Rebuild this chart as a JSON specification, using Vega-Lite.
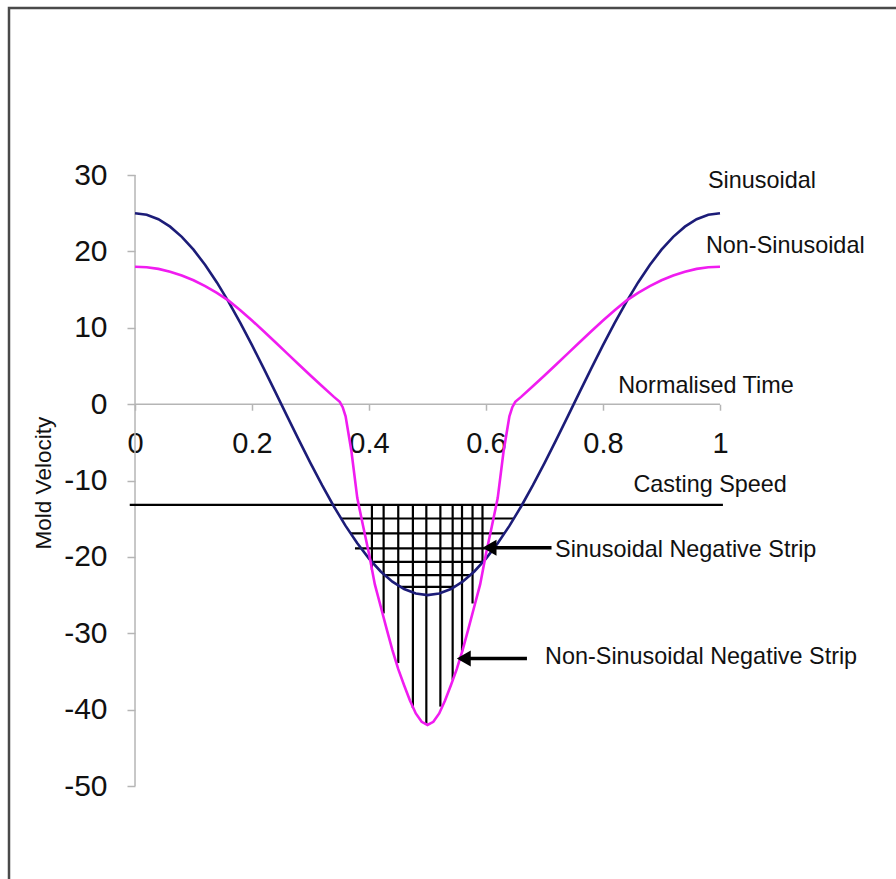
{
  "$schema": "https://vega.github.io/schema/vega-lite/v6.json",
  "width": 891,
  "height": 877,
  "autosize": {"type": "none"},
  "padding": {"left": 9, "top": 8, "right": 0, "bottom": 0},
  "background": "white",
  "config": {
    "font": "Liberation Sans",
    "view": {"stroke": "#4a4a4a", "strokeWidth": 2.5},
    "axis": {"grid": false}
  },
  "datasets": {
    "curves": [
      {"t": 0, "v": 25, "series": "Sinusoidal"},
      {"t": 0.02, "v": 24.8, "series": "Sinusoidal"},
      {"t": 0.04, "v": 24.21, "series": "Sinusoidal"},
      {"t": 0.06, "v": 23.24, "series": "Sinusoidal"},
      {"t": 0.08, "v": 21.91, "series": "Sinusoidal"},
      {"t": 0.1, "v": 20.23, "series": "Sinusoidal"},
      {"t": 0.12, "v": 18.22, "series": "Sinusoidal"},
      {"t": 0.14, "v": 15.94, "series": "Sinusoidal"},
      {"t": 0.16, "v": 13.4, "series": "Sinusoidal"},
      {"t": 0.18, "v": 10.64, "series": "Sinusoidal"},
      {"t": 0.2, "v": 7.73, "series": "Sinusoidal"},
      {"t": 0.22, "v": 4.68, "series": "Sinusoidal"},
      {"t": 0.24, "v": 1.57, "series": "Sinusoidal"},
      {"t": 0.26, "v": -1.57, "series": "Sinusoidal"},
      {"t": 0.28, "v": -4.68, "series": "Sinusoidal"},
      {"t": 0.3, "v": -7.73, "series": "Sinusoidal"},
      {"t": 0.32, "v": -10.64, "series": "Sinusoidal"},
      {"t": 0.34, "v": -13.4, "series": "Sinusoidal"},
      {"t": 0.36, "v": -15.94, "series": "Sinusoidal"},
      {"t": 0.38, "v": -18.22, "series": "Sinusoidal"},
      {"t": 0.4, "v": -20.23, "series": "Sinusoidal"},
      {"t": 0.42, "v": -21.91, "series": "Sinusoidal"},
      {"t": 0.44, "v": -23.24, "series": "Sinusoidal"},
      {"t": 0.46, "v": -24.21, "series": "Sinusoidal"},
      {"t": 0.48, "v": -24.8, "series": "Sinusoidal"},
      {"t": 0.5, "v": -25, "series": "Sinusoidal"},
      {"t": 0.52, "v": -24.8, "series": "Sinusoidal"},
      {"t": 0.54, "v": -24.21, "series": "Sinusoidal"},
      {"t": 0.56, "v": -23.24, "series": "Sinusoidal"},
      {"t": 0.58, "v": -21.91, "series": "Sinusoidal"},
      {"t": 0.6, "v": -20.23, "series": "Sinusoidal"},
      {"t": 0.62, "v": -18.22, "series": "Sinusoidal"},
      {"t": 0.64, "v": -15.94, "series": "Sinusoidal"},
      {"t": 0.66, "v": -13.4, "series": "Sinusoidal"},
      {"t": 0.68, "v": -10.64, "series": "Sinusoidal"},
      {"t": 0.7, "v": -7.73, "series": "Sinusoidal"},
      {"t": 0.72, "v": -4.68, "series": "Sinusoidal"},
      {"t": 0.74, "v": -1.57, "series": "Sinusoidal"},
      {"t": 0.76, "v": 1.57, "series": "Sinusoidal"},
      {"t": 0.78, "v": 4.68, "series": "Sinusoidal"},
      {"t": 0.8, "v": 7.73, "series": "Sinusoidal"},
      {"t": 0.82, "v": 10.64, "series": "Sinusoidal"},
      {"t": 0.84, "v": 13.4, "series": "Sinusoidal"},
      {"t": 0.86, "v": 15.94, "series": "Sinusoidal"},
      {"t": 0.88, "v": 18.22, "series": "Sinusoidal"},
      {"t": 0.9, "v": 20.23, "series": "Sinusoidal"},
      {"t": 0.92, "v": 21.91, "series": "Sinusoidal"},
      {"t": 0.94, "v": 23.24, "series": "Sinusoidal"},
      {"t": 0.96, "v": 24.21, "series": "Sinusoidal"},
      {"t": 0.98, "v": 24.8, "series": "Sinusoidal"},
      {"t": 1, "v": 25, "series": "Sinusoidal"},
      {"t": 0, "v": 18, "series": "Non-Sinusoidal"},
      {"t": 0.02, "v": 17.93, "series": "Non-Sinusoidal"},
      {"t": 0.04, "v": 17.71, "series": "Non-Sinusoidal"},
      {"t": 0.06, "v": 17.35, "series": "Non-Sinusoidal"},
      {"t": 0.08, "v": 16.85, "series": "Non-Sinusoidal"},
      {"t": 0.1, "v": 16.22, "series": "Non-Sinusoidal"},
      {"t": 0.12, "v": 15.45, "series": "Non-Sinusoidal"},
      {"t": 0.14, "v": 14.56, "series": "Non-Sinusoidal"},
      {"t": 0.16, "v": 13.55, "series": "Non-Sinusoidal"},
      {"t": 0.18, "v": 12.3, "series": "Non-Sinusoidal"},
      {"t": 0.2, "v": 10.95, "series": "Non-Sinusoidal"},
      {"t": 0.22, "v": 9.55, "series": "Non-Sinusoidal"},
      {"t": 0.24, "v": 8.1, "series": "Non-Sinusoidal"},
      {"t": 0.26, "v": 6.65, "series": "Non-Sinusoidal"},
      {"t": 0.28, "v": 5.2, "series": "Non-Sinusoidal"},
      {"t": 0.3, "v": 3.75, "series": "Non-Sinusoidal"},
      {"t": 0.32, "v": 2.35, "series": "Non-Sinusoidal"},
      {"t": 0.34, "v": 0.95, "series": "Non-Sinusoidal"},
      {"t": 0.35, "v": 0.3, "series": "Non-Sinusoidal"},
      {"t": 0.355, "v": -0.4, "series": "Non-Sinusoidal"},
      {"t": 0.36, "v": -1.6, "series": "Non-Sinusoidal"},
      {"t": 0.37, "v": -6.2, "series": "Non-Sinusoidal"},
      {"t": 0.38, "v": -12.3, "series": "Non-Sinusoidal"},
      {"t": 0.39, "v": -16.0, "series": "Non-Sinusoidal"},
      {"t": 0.4, "v": -19.6, "series": "Non-Sinusoidal"},
      {"t": 0.41, "v": -23.6, "series": "Non-Sinusoidal"},
      {"t": 0.42, "v": -26.5, "series": "Non-Sinusoidal"},
      {"t": 0.43, "v": -29.4, "series": "Non-Sinusoidal"},
      {"t": 0.44, "v": -32.2, "series": "Non-Sinusoidal"},
      {"t": 0.45, "v": -34.7, "series": "Non-Sinusoidal"},
      {"t": 0.46, "v": -36.8, "series": "Non-Sinusoidal"},
      {"t": 0.47, "v": -38.8, "series": "Non-Sinusoidal"},
      {"t": 0.48, "v": -40.5, "series": "Non-Sinusoidal"},
      {"t": 0.49, "v": -41.6, "series": "Non-Sinusoidal"},
      {"t": 0.5, "v": -42, "series": "Non-Sinusoidal"},
      {"t": 0.51, "v": -41.6, "series": "Non-Sinusoidal"},
      {"t": 0.52, "v": -40.5, "series": "Non-Sinusoidal"},
      {"t": 0.53, "v": -38.8, "series": "Non-Sinusoidal"},
      {"t": 0.54, "v": -36.8, "series": "Non-Sinusoidal"},
      {"t": 0.55, "v": -34.7, "series": "Non-Sinusoidal"},
      {"t": 0.56, "v": -32.2, "series": "Non-Sinusoidal"},
      {"t": 0.57, "v": -29.4, "series": "Non-Sinusoidal"},
      {"t": 0.58, "v": -26.5, "series": "Non-Sinusoidal"},
      {"t": 0.59, "v": -23.6, "series": "Non-Sinusoidal"},
      {"t": 0.6, "v": -19.6, "series": "Non-Sinusoidal"},
      {"t": 0.61, "v": -16.0, "series": "Non-Sinusoidal"},
      {"t": 0.62, "v": -12.3, "series": "Non-Sinusoidal"},
      {"t": 0.63, "v": -6.2, "series": "Non-Sinusoidal"},
      {"t": 0.64, "v": -1.6, "series": "Non-Sinusoidal"},
      {"t": 0.645, "v": -0.4, "series": "Non-Sinusoidal"},
      {"t": 0.65, "v": 0.3, "series": "Non-Sinusoidal"},
      {"t": 0.66, "v": 0.95, "series": "Non-Sinusoidal"},
      {"t": 0.68, "v": 2.35, "series": "Non-Sinusoidal"},
      {"t": 0.7, "v": 3.75, "series": "Non-Sinusoidal"},
      {"t": 0.72, "v": 5.2, "series": "Non-Sinusoidal"},
      {"t": 0.74, "v": 6.65, "series": "Non-Sinusoidal"},
      {"t": 0.76, "v": 8.1, "series": "Non-Sinusoidal"},
      {"t": 0.78, "v": 9.55, "series": "Non-Sinusoidal"},
      {"t": 0.8, "v": 10.95, "series": "Non-Sinusoidal"},
      {"t": 0.82, "v": 12.3, "series": "Non-Sinusoidal"},
      {"t": 0.84, "v": 13.55, "series": "Non-Sinusoidal"},
      {"t": 0.86, "v": 14.56, "series": "Non-Sinusoidal"},
      {"t": 0.88, "v": 15.45, "series": "Non-Sinusoidal"},
      {"t": 0.9, "v": 16.22, "series": "Non-Sinusoidal"},
      {"t": 0.92, "v": 16.85, "series": "Non-Sinusoidal"},
      {"t": 0.94, "v": 17.35, "series": "Non-Sinusoidal"},
      {"t": 0.96, "v": 17.71, "series": "Non-Sinusoidal"},
      {"t": 0.98, "v": 17.93, "series": "Non-Sinusoidal"},
      {"t": 1, "v": 18, "series": "Non-Sinusoidal"}
    ],
    "axisLines": [
      {"t1": 0, "t2": 0, "v1": -50, "v2": 30},
      {"t1": 0, "t2": 1, "v1": 0, "v2": 0}
    ],
    "casting": [
      {"t1": -0.009, "t2": 1.005, "v": -13.2}
    ],
    "hatchH": [
      {"t1": 0.3522, "t2": 0.6478, "v": -14.97},
      {"t1": 0.3686, "t2": 0.6314, "v": -16.93},
      {"t1": 0.376, "t2": 0.6136, "v": -18.89},
      {"t1": 0.4047, "t2": 0.5953, "v": -20.65},
      {"t1": 0.4267, "t2": 0.5733, "v": -22.39},
      {"t1": 0.453, "t2": 0.547, "v": -23.92}
    ],
    "hatchV": [
      {"t": 0.405, "v1": -13.2, "v2": -21.7},
      {"t": 0.425, "v1": -13.2, "v2": -27.4},
      {"t": 0.45, "v1": -13.2, "v2": -33.9},
      {"t": 0.475, "v1": -13.2, "v2": -39.8},
      {"t": 0.498, "v1": -13.2, "v2": -42.0},
      {"t": 0.522, "v1": -13.2, "v2": -39.6},
      {"t": 0.543, "v1": -13.2, "v2": -36.1},
      {"t": 0.559, "v1": -13.2, "v2": -32.4},
      {"t": 0.577, "v1": -13.2, "v2": -26.1},
      {"t": 0.594, "v1": -13.2, "v2": -20.8}
    ],
    "arrows": [
      {"t1": 0.6, "t2": 0.712, "v": -18.8},
      {"t1": 0.556, "t2": 0.67, "v": -33.3}
    ],
    "heads": [
      {"t": 0.606, "v": -18.8},
      {"t": 0.562, "v": -33.3}
    ],
    "labels": [
      {"t": 0.9795, "v": 28.32, "text": "Sinusoidal"},
      {"t": 0.976, "v": 19.81, "text": "Non-Sinusoidal"},
      {"t": 0.826, "v": 1.48, "text": "Normalised Time"},
      {"t": 0.852, "v": -11.48, "text": "Casting Speed"},
      {"t": 0.718, "v": -20.07, "text": "Sinusoidal Negative Strip"},
      {"t": 0.701, "v": -34.04, "text": "Non-Sinusoidal Negative Strip"}
    ],
    "ytitle": [
      {"t": -0.1556, "v": -10.34, "text": "Mold Velocity"}
    ]
  },
  "layer": [
    {
      "data": {"name": "axisLines"},
      "mark": {"type": "rule", "color": "#b5b5b5", "strokeWidth": 1.5},
      "encoding": {
        "x": {
          "field": "t1", "type": "quantitative",
          "scale": {"domain": [-0.2154, 1.3077], "nice": false, "zero": false},
          "axis": {
            "values": [0, 0.2, 0.4, 0.6, 0.8, 1],
            "labelExpr": "'' + datum.value",
            "offset": -480.8,
            "domain": false,
            "tickColor": "#b5b5b5",
            "tickSize": 6,
            "tickWidth": 1.5,
            "labelFontSize": 29,
            "labelPadding": 19,
            "labelColor": "#111111",
            "labelFlush": false,
            "labelOverlap": false,
            "labelBound": false,
            "title": null
          }
        },
        "x2": {"field": "t2"},
        "y": {
          "field": "v1", "type": "quantitative",
          "scale": {"domain": [-62.96, 51.87], "nice": false, "zero": false},
          "axis": {
            "values": [-50, -40, -30, -20, -10, 0, 10, 20, 30],
            "labelExpr": "'' + datum.value",
            "offset": -126,
            "domain": false,
            "tickColor": "#b5b5b5",
            "tickSize": 8,
            "tickWidth": 1.5,
            "labelFontSize": 30,
            "labelPadding": 20,
            "labelColor": "#111111",
            "labelFlush": false,
            "labelOverlap": false,
            "labelBound": false,
            "title": null
          }
        },
        "y2": {"field": "v2"}
      }
    },
    {
      "data": {"name": "casting"},
      "mark": {"type": "rule", "color": "#000000", "strokeWidth": 2.2},
      "encoding": {
        "x": {"field": "t1", "type": "quantitative"},
        "x2": {"field": "t2"},
        "y": {"field": "v", "type": "quantitative"}
      }
    },
    {
      "data": {"name": "hatchH"},
      "mark": {"type": "rule", "color": "#000000", "strokeWidth": 2.2},
      "encoding": {
        "x": {"field": "t1", "type": "quantitative"},
        "x2": {"field": "t2"},
        "y": {"field": "v", "type": "quantitative"}
      }
    },
    {
      "data": {"name": "hatchV"},
      "mark": {"type": "rule", "color": "#000000", "strokeWidth": 2.2},
      "encoding": {
        "x": {"field": "t", "type": "quantitative"},
        "y": {"field": "v1", "type": "quantitative"},
        "y2": {"field": "v2"}
      }
    },
    {
      "data": {"name": "curves"},
      "mark": {"type": "line", "strokeWidth": 2.6},
      "encoding": {
        "x": {"field": "t", "type": "quantitative"},
        "y": {"field": "v", "type": "quantitative"},
        "color": {
          "field": "series", "type": "nominal",
          "scale": {"domain": ["Non-Sinusoidal", "Sinusoidal"], "range": ["#f01cf0", "#1c1c78"]},
          "legend": null
        }
      }
    },
    {
      "data": {"name": "arrows"},
      "mark": {"type": "rule", "color": "#000000", "strokeWidth": 3.5},
      "encoding": {
        "x": {"field": "t1", "type": "quantitative"},
        "x2": {"field": "t2"},
        "y": {"field": "v", "type": "quantitative"}
      }
    },
    {
      "data": {"name": "heads"},
      "mark": {"type": "point", "shape": "triangle-left", "filled": true, "color": "#000000", "size": 260, "opacity": 1},
      "encoding": {
        "x": {"field": "t", "type": "quantitative"},
        "y": {"field": "v", "type": "quantitative"}
      }
    },
    {
      "data": {"name": "labels"},
      "mark": {"type": "text", "align": "left", "baseline": "alphabetic", "fontSize": 23.4, "color": "#111111"},
      "encoding": {
        "x": {"field": "t", "type": "quantitative"},
        "y": {"field": "v", "type": "quantitative"},
        "text": {"field": "text"}
      }
    },
    {
      "data": {"name": "ytitle"},
      "mark": {"type": "text", "align": "center", "baseline": "middle", "angle": 270, "fontSize": 22.5, "color": "#111111"},
      "encoding": {
        "x": {"field": "t", "type": "quantitative"},
        "y": {"field": "v", "type": "quantitative"},
        "text": {"field": "text"}
      }
    }
  ]
}
